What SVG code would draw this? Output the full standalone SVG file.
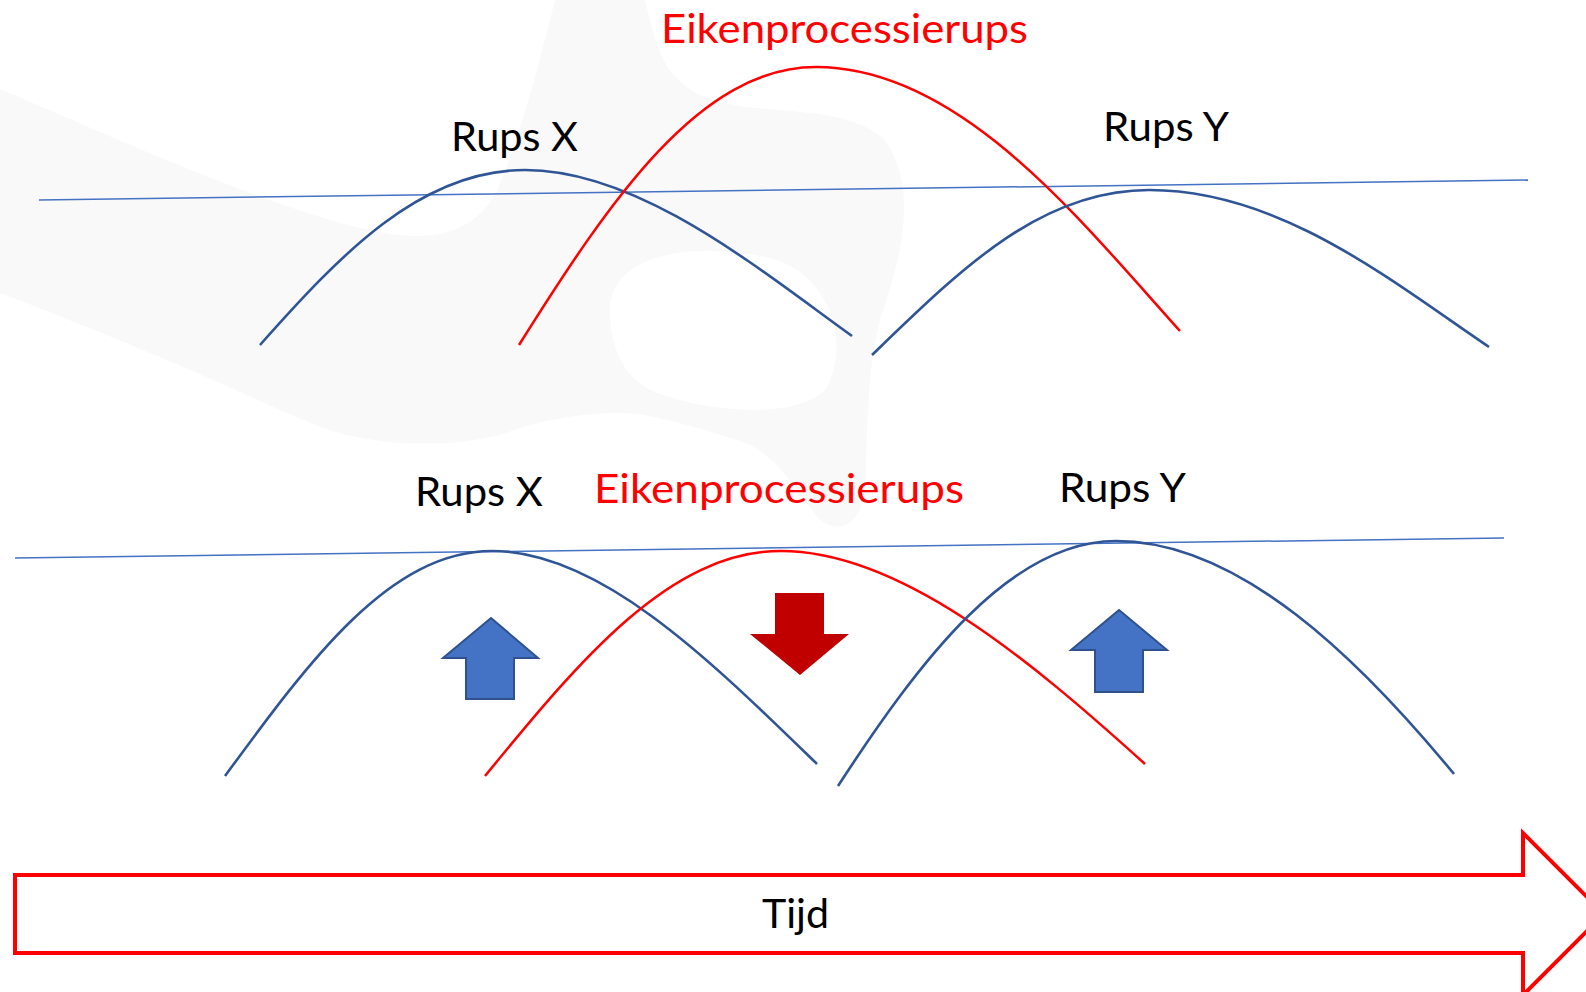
<svg xmlns="http://www.w3.org/2000/svg" width="1586" height="992" viewBox="0 0 1586 992">
<style>
.lbl{font-family:Lato,"Noto Sans","Liberation Sans",sans-serif;font-size:40px;fill:#000}
.red{fill:#FF0000}
.hz{fill:none;stroke:#4472C4;stroke-width:1.5}
.bc{fill:none;stroke:#2F5597;stroke-width:2.6}
.rc{fill:none;stroke:#FF0000;stroke-width:2.5}
.up{fill:#4472C4;stroke:#2F528F;stroke-width:2}
.dn{fill:#C00000}
</style>
<rect width="1586" height="992" fill="#fff"/>
<g id="watermark" fill="#f9f9f9" fill-rule="evenodd">
<path d="M0,89 C120,140 250,200 360,228 C430,245 470,235 495,195 C520,140 540,60 555,0 L645,0 C655,40 660,75 700,95 C760,120 840,100 885,140 C920,190 900,260 880,320 C865,380 868,440 865,490 C860,525 840,535 820,520 C795,490 780,460 750,445 C710,430 670,420 640,414 C590,410 540,420 500,435 C430,452 350,442 306,421 C250,398 200,370 0,293 Z M610,310 C610,255 690,240 770,258 C835,275 850,350 825,390 C795,420 705,412 655,392 C622,378 610,345 610,310 Z"/>
</g>
<g id="connectors">
<line class="hz" x1="39" y1="200" x2="1528" y2="180"/>
<line class="hz" x1="15" y1="558" x2="1504" y2="538"/>
</g>
<g id="top-rups-x"><path class="bc" d="M260,345 C340,255 420,170 525,170 C640,170 760,270 852,336"/></g>
<g id="top-eiken"><path class="rc" d="M519,345 C610,200 700,67 816,67 C960,67 1080,220 1180,331"/></g>
<g id="top-rups-y"><path class="bc" d="M872,355 C960,270 1040,190 1149,190 C1280,190 1390,280 1489,347"/></g>
<g id="bottom-rups-x"><path class="bc" d="M225,776 C310,660 390,551 492,551 C600,551 710,660 817,764"/></g>
<g id="bottom-eiken"><path class="rc" d="M485,776 C580,660 670,551 781,551 C900,551 1030,660 1145,764"/></g>
<g id="bottom-rups-y"><path class="bc" d="M838,786 C920,660 1010,541 1116,541 C1240,541 1360,660 1454,774"/></g>
<g id="arrow-up-1"><path class="up" d="M491,618 L538,658 L514,658 L514,699 L466,699 L466,658 L443,658 Z"/></g>
<g id="arrow-down"><path class="dn" d="M775,593 L824,593 L824,634 L849,634 L800,675 L750,634 L775,634 Z"/></g>
<g id="arrow-up-2"><path class="up" d="M1119,610 L1167,650 L1143,650 L1143,692 L1095,692 L1095,650 L1071,650 Z"/></g>
<g id="tijd"><path d="M15,875 L1523,875 L1523,833 L1604,914 L1523,995 L1523,953 L15,953 Z" fill="#fff" stroke="#FF0000" stroke-width="4"/>
<text class="lbl" x="762" y="928" textLength="67" lengthAdjust="spacingAndGlyphs">Tijd</text></g>
<g id="labels">
<text class="lbl red" x="661" y="43" textLength="367" lengthAdjust="spacingAndGlyphs">Eikenprocessierups</text>
<text class="lbl" x="451" y="151" textLength="127" lengthAdjust="spacingAndGlyphs">Rups X</text>
<text class="lbl" x="1103" y="141" textLength="126" lengthAdjust="spacingAndGlyphs">Rups Y</text>
<text class="lbl" x="415" y="506" textLength="128" lengthAdjust="spacingAndGlyphs">Rups X</text>
<text class="lbl red" x="594" y="503" textLength="370" lengthAdjust="spacingAndGlyphs">Eikenprocessierups</text>
<text class="lbl" x="1059" y="502" textLength="127" lengthAdjust="spacingAndGlyphs">Rups Y</text>
</g>
</svg>
